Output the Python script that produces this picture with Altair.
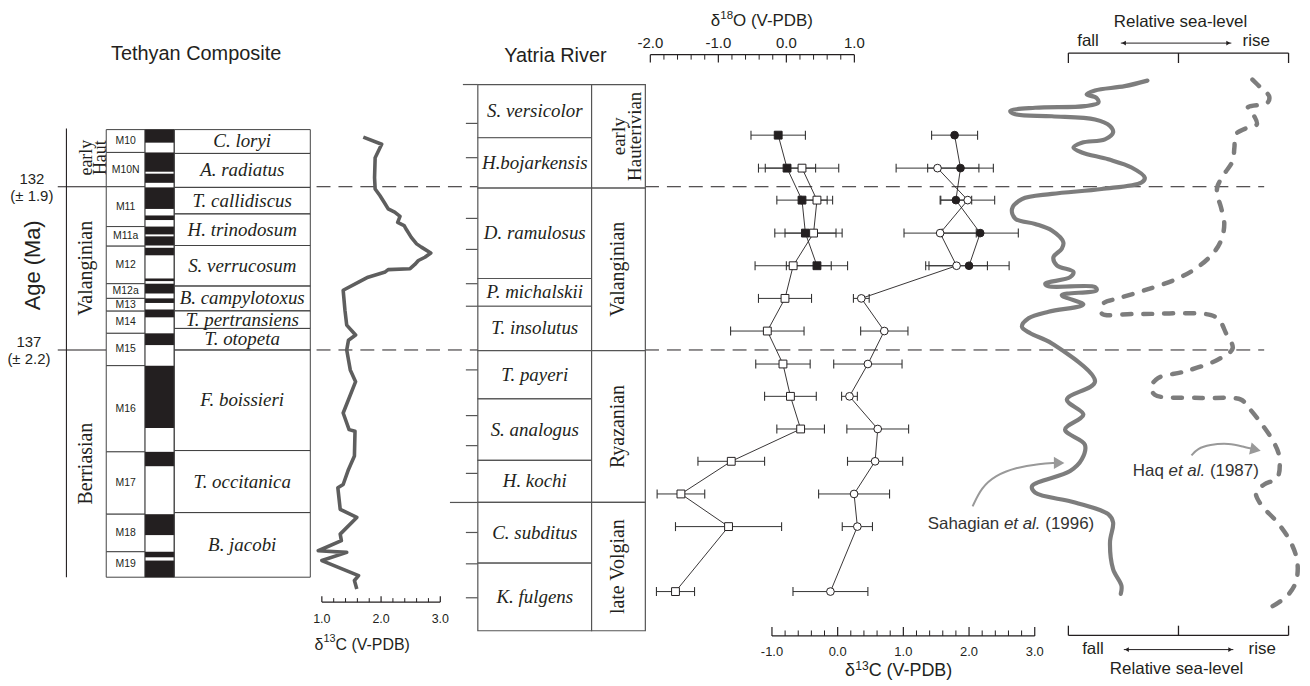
import altair as alt
import pandas as pd

# ======================= DATA =======================
# ---- Tethyan composite (ages in Ma) ----
teth_stage_labels = ["early\nHaut", "Valanginian", "Berriasian"]
teth_stage_bounds = [130.22, 132.0, 137.0, 143.96]
teth_age_values = [132.0, 137.0]

chron_names = ["M10", "M10N", "M11", "M11a", "M12", "M12a", "M13", "M14",
               "M15", "M16", "M17", "M18", "M19"]
chron_bounds = [130.25, 130.95, 132.0, 133.22, 133.82, 134.97, 135.42, 135.81,
                136.49, 137.48, 140.12, 142.03, 143.18, 143.96]
normal_top = [130.25, 130.95, 131.60, 132.02, 132.88, 133.22, 133.52, 133.87, 134.81,
              134.97, 135.42, 135.76, 136.49, 137.48, 140.12, 142.03, 143.18, 143.45]
normal_base = [130.65, 131.54, 131.88, 132.68, 133.02, 133.46, 133.80, 134.10, 134.89,
               135.27, 135.56, 136.00, 136.85, 139.39, 140.56, 142.67, 143.35, 143.96]

amm_names = ["C. loryi", "A. radiatus", "T. callidiscus", "H. trinodosum", "S. verrucosum",
             "B. campylotoxus", "T. pertransiens", "T. otopeta", "F. boissieri",
             "T. occitanica", "B. jacobi"]
amm_bounds = [130.25, 130.98, 132.02, 132.83, 133.80, 135.04, 135.80, 136.34, 137.0,
              140.08, 141.98, 143.96]

teth_c13_age = [130.48, 130.70, 131.11, 131.72, 132.07, 132.27, 132.53, 132.68, 132.78, 132.91,
                133.09, 133.19, 133.32, 133.55, 133.75, 133.85, 134.03, 134.16, 134.26, 134.38,
                134.51, 134.54, 134.61, 134.77, 134.92, 135.17, 135.78, 136.24, 136.54, 136.70,
                137.00, 137.61, 137.97, 138.93, 139.44, 139.49, 140.25, 140.66, 141.12, 141.22,
                141.88, 142.13, 142.64, 142.84, 143.15, 143.20, 143.45, 143.91, 144.06, 144.32]
teth_c13 = [1.70, 2.01, 1.90, 1.89, 1.90, 1.98, 2.07, 2.12, 2.23, 2.32,
            2.28, 2.39, 2.43, 2.51, 2.60, 2.68, 2.84, 2.74, 2.63, 2.57,
            2.49, 2.12, 2.07, 1.78, 1.62, 1.36, 1.39, 1.42, 1.57, 1.45,
            1.42, 1.48, 1.57, 1.36, 1.46, 1.56, 1.55, 1.45, 1.36, 1.27,
            1.31, 1.59, 1.31, 1.33, 0.94, 1.42, 1.00, 1.62, 1.55, 1.59]

# ---- Yatria River section (placed on the same age axis) ----
yat_zone_names = ["S. versicolor", "H.bojarkensis", "D. ramulosus", "P. michalskii",
                  "T. insolutus", "T. payeri", "S. analogus", "H. kochi", "C. subditus",
                  "K. fulgens"]
yat_zone_bounds = [128.87, 130.50, 132.04, 134.81, 135.66, 137.02, 138.50, 140.38,
                   141.67, 143.53, 145.60]
yat_stage_labels = ["early\nHauterivian", "Valanginian", "Ryazanian", "late Volgian"]
yat_stage_bounds = [128.87, 132.04, 137.02, 141.67, 145.60]
yat_ticks = [130.06, 131.11, 132.97, 133.92, 134.97, 135.66, 137.61, 139.01, 139.93,
             140.78, 142.59, 143.55, 144.59]

filled_age = [130.42, 131.43, 132.41, 133.42, 134.42]
open_age = [131.43, 132.41, 133.42, 134.42, 135.42, 136.42, 137.43, 138.42, 139.42,
            140.41, 141.41, 142.41, 144.40]
o18_filled = [-0.12, 0.01, 0.23, 0.28, 0.45]
o18_filled_err = [0.40, 0.42, 0.37, 0.45, 0.45]
o18_open = [0.23, 0.45, 0.40, 0.10, -0.02, -0.28, -0.05, 0.06, 0.21, -0.81, -1.55, -0.85, -1.63]
o18_open_err = [0.54, 0.23, 0.42, 0.56, 0.39, 0.54, 0.40, 0.38, 0.35, 0.49, 0.35, 0.78, 0.28]
c13_filled = [1.78, 1.87, 1.80, 2.17, 2.00]
c13_filled_err = [0.35, 0.50, 0.24, 0.58, 0.61]
c13_open = [1.52, 1.98, 1.56, 1.81, 0.36, 0.71, 0.46, 0.18, 0.61, 0.57, 0.25, 0.30, -0.11]
c13_open_err = [0.63, 0.41, 0.55, 0.47, 0.12, 0.36, 0.52, 0.12, 0.47, 0.42, 0.54, 0.23, 0.57]

# ---- Relative sea-level curves (0 = fall end, 10 = rise end of the scale bar) ----
sahagian_age = [128.75, 128.92, 129.05, 129.17, 129.28, 129.43, 129.53, 129.58, 129.68, 129.78,
                129.84, 129.94, 130.14, 130.34, 130.55, 130.65, 130.80, 130.95, 131.16, 131.41,
                131.72, 131.87, 132.07, 132.22, 132.38, 132.68, 132.98, 133.14, 133.34, 133.70,
                133.90, 134.16, 134.41, 134.61, 134.77, 134.97, 135.05, 135.07, 135.17, 135.32,
                135.60, 135.66, 135.83, 136.03, 136.29, 136.49, 136.80, 137.97, 138.52, 138.98,
                139.44, 139.90, 140.35, 140.71, 141.17, 141.37, 141.67, 142.03, 142.28, 142.89,
                143.71, 144.22, 144.47]
sahagian_level = [3.59, 2.56, 1.21, 0.83, 1.28, 1.36, 0.75, -1.51, -2.64, -2.41,
                  -0.75, 1.21, 1.89, 2.03, 1.66, 0.61, 0.23, 0.61, 1.81, 2.87,
                  3.47, 3.32, 1.51, -0.75, -2.11, -2.56, -2.41, -1.51, -0.75, -0.23,
                  -0.30, -0.68, -0.52, 0.23, 0.08, -1.05, -0.90, 1.21, 1.28, -0.30,
                  0.68, 0.53, -0.90, -1.81, -2.11, -1.73, -0.75, 1.21, -0.07, 0.68,
                  -0.15, 0.75, 0.61, 0.08, -1.65, -1.51, 0.30, 1.81, 2.03, 1.89,
                  2.03, 2.41, 2.38]
haq_age = [128.72, 128.97, 129.23, 129.43, 129.58, 129.84, 130.09, 130.19, 130.39, 130.80,
           131.21, 131.61, 131.97, 132.22, 132.63, 133.14, 133.65, 134.05, 134.46, 134.81,
           135.17, 135.42, 135.58, 135.88, 135.90, 135.93, 136.09, 136.49, 136.95, 137.30,
           137.66, 137.86, 138.12, 138.37, 138.47, 138.52, 138.73, 139.23, 139.84, 140.25,
           140.91, 141.12, 141.37, 141.73, 142.28, 142.89, 143.50, 144.11, 144.52, 144.88]
haq_level = [8.36, 8.74, 9.12, 9.04, 8.14, 8.44, 8.56, 8.14, 7.61, 7.54,
             7.46, 7.08, 6.78, 6.75, 6.93, 7.08, 6.93, 6.56, 5.88, 4.97,
             3.47, 2.26, 1.58, 1.51, 3.02, 6.48, 6.86, 7.16, 7.46, 6.78,
             5.28, 4.07, 3.77, 3.92, 6.03, 7.84, 8.14, 8.74, 9.34, 9.57,
             9.49, 8.89, 8.52, 8.74, 9.49, 10.10, 10.40, 10.33, 9.95, 9.20]

# ======================= LAYOUT =======================
W, H = 1300, 674
OX, OY = 8, 8
PX_PER_MA = 32.8
MA_TOP = 132.0 - (186.0 - OY) / PX_PER_MA
MA_BOT = MA_TOP + H / PX_PER_MA


def span(v1, p1, v2, p2):
    k = (p2 - p1) / (v2 - v1)
    return [v1 - (p1 - OX) / k, v1 + (OX + W - p1) / k]


DOM_C13T = span(1.0, 323.3, 3.0, 442.3)
DOM_O18 = span(-2.0, 653.3, 1.0, 858.3)
DOM_C13Y = span(-1.0, 775.5, 3.0, 1039.5)
DOM_SEA = span(0.0, 1073.3, 10.0, 1294.5)
DOM_PX = [OX, OX + W]

SANS = "Liberation Sans"
SERIF = "Liberation Serif"
INK = "#231f20"


def Yma(f):
    return alt.Y(f"{f}:Q", scale=alt.Scale(domain=[MA_TOP, MA_BOT], nice=False, zero=False,
                                           reverse=True), axis=None)


def Xs(f, dom):
    return alt.X(f"{f}:Q", scale=alt.Scale(domain=dom, nice=False, zero=False), axis=None)


def Yp(f):
    return alt.Y(f"{f}:Q", scale=alt.Scale(domain=[OY, OY + H], nice=False, zero=False,
                                           reverse=True), axis=None)


def vx(p):
    return alt.value(p - OX)


def vy(p):
    return alt.value(p - OY)


def ptxt(items, **kw):
    df = pd.DataFrame(items, columns=["t", "px", "py"])
    kw.setdefault("font", SANS)
    kw.setdefault("color", INK)
    kw.setdefault("baseline", "middle")
    return alt.Chart(df).mark_text(**kw).encode(x=Xs("px", DOM_PX), y=Yp("py"), text="t:N")


def intervals(names, bounds):
    df = pd.DataFrame({"name": names, "top": bounds[:-1], "base": bounds[1:]})
    df["mid"] = (df["top"] + df["base"]) / 2
    return df


L = []

# dashed correlation lines
L.append(alt.Chart(pd.DataFrame({"age": teth_age_values})).mark_rule(
    color=INK, strokeWidth=1, strokeDash=[14, 8]).encode(x=vx(318), x2=vx(1270), y=Yma("age")))

# ---------- Tethyan composite ----------
stage_df = intervals(teth_stage_labels, teth_stage_bounds)
L.append(alt.Chart(pd.DataFrame({"top": [teth_stage_bounds[0]], "base": [teth_stage_bounds[-1]]}))
         .mark_rule(color=INK, strokeWidth=1.1).encode(x=vx(66.7), y=Yma("top"), y2="base:Q"))
L.append(alt.Chart(pd.DataFrame({"age": teth_age_values})).mark_rule(color=INK, strokeWidth=1.1)
         .encode(x=vx(58), x2=vx(106.7), y=Yma("age")))
L.append(alt.Chart(stage_df.iloc[:1]).mark_text(font=SERIF, fontSize=18, angle=270, lineBreak="\n",
                                                lineHeight=14, color=INK, baseline="middle")
         .encode(x=vx(87.5), y=Yma("mid"), text="name:N"))
L.append(alt.Chart(stage_df.iloc[1:]).mark_text(font=SERIF, fontSize=20, angle=270,
                                                color=INK, baseline="middle")
         .encode(x=vx(86), y=Yma("mid"), text="name:N"))

chron_df = intervals(chron_names, chron_bounds)
L.append(alt.Chart(chron_df).mark_rect(fill="white", stroke="#444", strokeWidth=1)
         .encode(x=vx(106.7), x2=vx(145.7), y=Yma("top"), y2="base:Q"))
L.append(alt.Chart(chron_df).mark_text(font=SANS, fontSize=10.5, color=INK, baseline="middle")
         .encode(x=vx(126.2), y=Yma("mid"), text="name:N"))
L.append(alt.Chart(pd.DataFrame({"top": [chron_bounds[0]], "base": [chron_bounds[-1]]}))
         .mark_rect(fill="white", stroke="#444", strokeWidth=1)
         .encode(x=vx(145.7), x2=vx(175), y=Yma("top"), y2="base:Q"))
L.append(alt.Chart(pd.DataFrame({"top": normal_top, "base": normal_base}))
         .mark_rect(fill=INK).encode(x=vx(145.7), x2=vx(175), y=Yma("top"), y2="base:Q"))

amm_df = intervals(amm_names, amm_bounds)
L.append(alt.Chart(amm_df).mark_rect(fill="white", stroke="#444", strokeWidth=1, fillOpacity=0)
         .encode(x=vx(175), x2=vx(311.7), y=Yma("top"), y2="base:Q"))
L.append(alt.Chart(amm_df).mark_text(font=SERIF, fontStyle="italic", fontSize=19, color=INK,
                                     baseline="middle")
         .encode(x=vx(243.3), y=Yma("mid"), text="name:N"))

L.append(ptxt([("132", 32, 178), ("(± 1.9)", 32, 195), ("137", 29, 342), ("(± 2.2)", 29, 359)],
              fontSize=15))
L.append(ptxt([("Age (Ma)", 33, 265)], fontSize=22, angle=270))
L.append(ptxt([("Tethyan Composite", 197, 53)], fontSize=20))

# Tethyan d13C curve
L.append(alt.Chart(pd.DataFrame({"age": teth_c13_age, "v": teth_c13, "i": range(len(teth_c13))}))
         .mark_line(color="#5e5e5e", strokeWidth=3.6, strokeJoin="round")
         .encode(x=Xs("v", DOM_C13T), y=Yma("age"), order="i:Q"))


def axis_layers(dom, v0, v1, step, py, major_len, minor_len, direction, label_py, fsize):
    n = int(round((v1 - v0) / step))
    vals = [round(v0 + step * i, 2) for i in range(n + 1)]
    tdf = pd.DataFrame({"v": vals})
    tdf["major"] = [abs(v - round(v)) < 1e-6 for v in vals]
    out = [alt.Chart(pd.DataFrame({"a": [v0], "b": [v1]})).mark_rule(color=INK, strokeWidth=1.2)
           .encode(x=Xs("a", dom), x2="b:Q", y=vy(py))]
    out.append(alt.Chart(tdf[~tdf.major]).mark_rule(color=INK, strokeWidth=1)
               .encode(x=Xs("v", dom), y=vy(py), y2=vy(py + direction * minor_len)))
    out.append(alt.Chart(tdf[tdf.major]).mark_rule(color=INK, strokeWidth=1.2)
               .encode(x=Xs("v", dom), y=vy(py), y2=vy(py + direction * major_len)))
    ldf = tdf[tdf.major].copy()
    ldf["lab"] = [f"{v:.1f}" for v in ldf["v"]]
    out.append(alt.Chart(ldf).mark_text(font=SANS, fontSize=fsize, color=INK, baseline="middle")
               .encode(x=Xs("v", dom), y=vy(label_py), text="lab:N"))
    return out


L += axis_layers(DOM_C13T, 1.0, 3.0, 0.2, 603.3, 6, 4, -1, 620, 12.5)


def delta_title(x_left, y_mid, sup, rest, size, raise_frac=0.33):
    sub = round(size * 0.68, 1)
    dw = 0.56 * size
    sw = 2 * 0.556 * sub
    return [ptxt([("δ", x_left, y_mid)], fontSize=size, align="left"),
            ptxt([(sup, x_left + dw, y_mid - raise_frac * size)], fontSize=sub, align="left"),
            ptxt([(rest, x_left + dw + sw, y_mid)], fontSize=size, align="left")]


L += delta_title(316, 646, "13", "C (V-PDB)", 16)

# ---------- Yatria River column ----------
yz = intervals(yat_zone_names, yat_zone_bounds)
ys = intervals(yat_stage_labels, yat_stage_bounds)
L.append(alt.Chart(pd.DataFrame({"age": yat_ticks})).mark_rule(color="#555", strokeWidth=1.2)
         .encode(x=vx(468), x2=vx(480), y=Yma("age")))
L.append(alt.Chart(pd.DataFrame({"age": [yat_zone_bounds[0]]})).mark_rule(color="#555", strokeWidth=1.2)
         .encode(x=vx(465), x2=vx(480), y=Yma("age")))
L.append(alt.Chart(pd.DataFrame({"age": [yat_stage_bounds[3]]})).mark_rule(color="#555", strokeWidth=1.2)
         .encode(x=vx(452), x2=vx(480), y=Yma("age")))
L.append(alt.Chart(yz).mark_rect(fill="white", stroke="#555", strokeWidth=1.2)
         .encode(x=vx(480), x2=vx(594.3), y=Yma("top"), y2="base:Q"))
L.append(alt.Chart(ys).mark_rect(fill="white", stroke="#555", strokeWidth=1.2)
         .encode(x=vx(594.3), x2=vx(648.3), y=Yma("top"), y2="base:Q"))
L.append(alt.Chart(yz).mark_text(font=SERIF, fontStyle="italic", fontSize=19, color=INK,
                                 baseline="middle")
         .encode(x=vx(537.2), y=Yma("mid"), text="name:N"))
L.append(alt.Chart(ys.iloc[:1]).mark_text(font=SERIF, fontSize=19, angle=270, lineBreak="\n",
                                          lineHeight=16, color=INK, baseline="middle")
         .encode(x=vx(622), y=Yma("mid"), text="name:N"))
L.append(alt.Chart(ys.iloc[1:]).mark_text(font=SERIF, fontSize=20, angle=270,
                                          color=INK, baseline="middle")
         .encode(x=vx(621.3), y=Yma("mid"), text="name:N"))
L.append(ptxt([("Yatria River", 558, 55)], fontSize=20))

# ---------- isotope plot ----------
bars, lines, pts = [], [], []


def iso(age, val, err, dom, shape, fill, size):
    df = pd.DataFrame({"age": age, "v": val, "e": err})
    df["lo"] = df["v"] - df["e"]
    df["hi"] = df["v"] + df["e"]
    df["i"] = range(len(df))
    ends = pd.DataFrame({"age": list(df["age"]) * 2, "x": list(df["lo"]) + list(df["hi"])})
    bars.append(alt.Chart(df).mark_rule(color="#333", strokeWidth=1)
                .encode(x=Xs("lo", dom), x2="hi:Q", y=Yma("age")))
    bars.append(alt.Chart(ends).mark_tick(orient="vertical", size=9, thickness=1.1, color="#333",
                                          opacity=1)
                .encode(x=Xs("x", dom), y=Yma("age")))
    lines.append(alt.Chart(df).mark_line(color=INK, strokeWidth=0.9)
                 .encode(x=Xs("v", dom), y=Yma("age"), order="i:Q"))
    pts.append(alt.Chart(df).mark_point(shape=shape, filled=True, fill=fill, stroke=INK,
                                        strokeWidth=1, size=size, opacity=1)
               .encode(x=Xs("v", dom), y=Yma("age")))


iso(filled_age, o18_filled, o18_filled_err, DOM_O18, "square", INK, 62)
iso(open_age, o18_open, o18_open_err, DOM_O18, "square", "white", 62)
iso(filled_age, c13_filled, c13_filled_err, DOM_C13Y, "circle", INK, 60)
iso(open_age, c13_open, c13_open_err, DOM_C13Y, "circle", "white", 60)
L += bars + lines + pts

L += axis_layers(DOM_O18, -2.0, 1.0, 0.2, 53.3, 8, 5, 1, 41.7, 15)
L += delta_title(714, 20, "18", "O (V-PDB)", 17, 0.3)
L += axis_layers(DOM_C13Y, -1.0, 3.0, 0.2, 637.3, 9, 5.5, -1, 653.3, 13)
L += delta_title(849, 673, "13", "C (V-PDB)", 18)

# ---------- relative sea level ----------
L.append(alt.Chart(pd.DataFrame({"age": sahagian_age, "v": sahagian_level,
                                 "i": range(len(sahagian_age))}))
         .mark_line(color="#7d7d7d", strokeWidth=4.2, interpolate="catmull-rom", strokeCap="round")
         .encode(x=Xs("v", DOM_SEA), y=Yma("age"), order="i:Q"))
L.append(alt.Chart(pd.DataFrame({"age": haq_age, "v": haq_level, "i": range(len(haq_age))}))
         .mark_line(color="#7d7d7d", strokeWidth=4.5, interpolate="catmull-rom", strokeCap="round",
                    strokeDash=[9, 12])
         .encode(x=Xs("v", DOM_SEA), y=Yma("age"), order="i:Q"))

for py, tick_end in [(51.7, 61.7), (636.7, 627)]:
    L.append(alt.Chart(pd.DataFrame({"a": [0.0], "b": [10.0]})).mark_rule(color=INK, strokeWidth=1.3)
             .encode(x=Xs("a", DOM_SEA), x2="b:Q", y=vy(py)))
    L.append(alt.Chart(pd.DataFrame({"v": [0.0, 5.0, 10.0]})).mark_rule(color=INK, strokeWidth=1.3)
             .encode(x=Xs("v", DOM_SEA), y=vy(py), y2=vy(tick_end)))

# fall <-> rise arrows
for x1, x2, py in [(1126, 1237, 41.7), (1129, 1239, 651)]:
    L.append(alt.Chart(pd.DataFrame({"a": [x1], "b": [x2]})).mark_rule(color=INK, strokeWidth=1)
             .encode(x=Xs("a", DOM_PX), x2="b:Q", y=vy(py)))
    L.append(alt.Chart(pd.DataFrame({"px": [x1 + 3], "py": [py]}))
             .mark_point(shape="triangle-left", filled=True, color=INK, size=22, opacity=1)
             .encode(x=Xs("px", DOM_PX), y=Yp("py")))
    L.append(alt.Chart(pd.DataFrame({"px": [x2 - 3], "py": [py]}))
             .mark_point(shape="triangle-right", filled=True, color=INK, size=22, opacity=1)
             .encode(x=Xs("px", DOM_PX), y=Yp("py")))

L.append(ptxt([("fall", 1093, 40), ("rise", 1262, 40), ("fall", 1098, 650), ("rise", 1268, 650)],
              fontSize=17))
L.append(ptxt([("Relative sea-level", 1186, 21), ("Relative sea-level", 1182, 671)], fontSize=17))

# curved annotation arrows
sah_arrow = pd.DataFrame({"v": [-4.35, -3.95, -3.31, -2.41, -1.28, -0.60],
                          "age": [141.79, 141.21, 140.84, 140.60, 140.48, 140.46], "i": range(6)})
haq_arrow = pd.DataFrame({"v": [5.59, 5.86, 6.40, 7.30, 7.98, 8.30],
                          "age": [140.23, 140.02, 139.90, 139.85, 139.97, 140.02], "i": range(6)})
for df in (sah_arrow, haq_arrow):
    L.append(alt.Chart(df).mark_line(color="#999", strokeWidth=2, interpolate="basis")
             .encode(x=Xs("v", DOM_SEA), y=Yma("age"), order="i:Q"))
L.append(alt.Chart(pd.DataFrame({"v": [-0.42], "age": [140.46]}))
         .mark_point(shape="triangle-right", filled=True, color="#999", size=150, opacity=1)
         .encode(x=Xs("v", DOM_SEA), y=Yma("age")))
L.append(alt.Chart(pd.DataFrame({"v": [8.50], "age": [140.05]}))
         .mark_point(shape="triangle-right", filled=True, color="#999", size=150, opacity=1,
                     angle=12)
         .encode(x=Xs("v", DOM_SEA), y=Yma("age")))

# citation labels (normal / italic / normal pieces)
L.append(ptxt([("Sahagian", 932, 525), ("(1996)", 932 + 76.5 + 36.9 + 4.7, 525),
               ("Haq", 1138, 471.7), ("(1987)", 1138 + 35.9 + 36.9 + 4.7, 471.7)],
              fontSize=17, align="left", color="#333"))
L.append(ptxt([("et al.", 932 + 76.5, 525), ("et al.", 1138 + 35.9, 471.7)],
              fontSize=17, align="left", fontStyle="italic", color="#333"))

chart = alt.layer(*L).resolve_scale(x="independent", y="independent").properties(
    width=W, height=H, padding=0, autosize=alt.AutoSizeParams(type="none"), background="white"
).configure_view(stroke=None)

chart.save("out.html", embed_options={"renderer": "svg", "actions": False})
